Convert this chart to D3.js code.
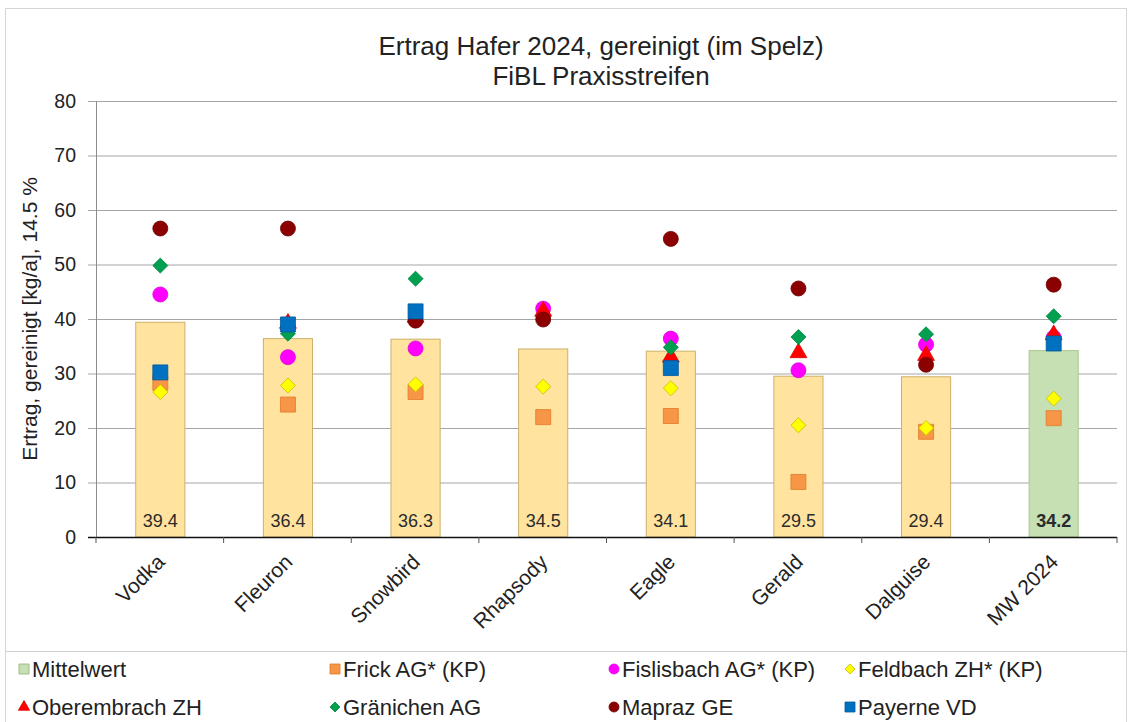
<!DOCTYPE html>
<html>
<head>
<meta charset="utf-8">
<script src="https://cdn.jsdelivr.net/npm/d3@7"></script>
<style>
  html, body { margin: 0; padding: 0; background: #fff; }
  svg { display: block; font-family: "Liberation Sans", Arial, sans-serif; }
</style>
</head>
<body>
<svg id="chart" width="1131" height="722"></svg>
<script>
// Oat yield 2024 (cleaned, in husk), FiBL on-farm strips
const categories = ["Vodka", "Fleuron", "Snowbird", "Rhapsody", "Eagle", "Gerald", "Dalguise", "MW 2024"];
const meanValues = [39.4, 36.4, 36.3, 34.5, 34.1, 29.5, 29.4, 34.2];
const yTicks = [0, 10, 20, 30, 40, 50, 60, 70, 80];

const frick       = [28.3, 24.3, 26.6, 22.0, 22.2, 10.1, 19.3, 21.8];
const fislisbach  = [44.5, 33.0, 34.6, 41.9, 36.4, 30.6, 35.3, 36.6];
const feldbach    = [26.6, 27.8, 28.0, 27.6, 27.3, 20.5, 20.0, 25.4];
const oberembrach = [null, 39.2, 40.3, 41.4, 33.0, 33.8, 33.3, 37.1];
const graenichen  = [49.8, 37.3, 47.4, null, 34.8, 36.7, 37.2, 40.5];
const mapraz      = [56.6, 56.6, 39.7, 39.9, 54.7, 45.6, 31.6, 46.3];
const payerne     = [30.2, 39.0, 41.4, null, 31.0, null, null, 35.5];

const seriesNames = ["Frick AG* (KP)", "Fislisbach AG* (KP)", "Feldbach ZH* (KP)", "Oberembrach ZH",
                     "Gränichen AG", "Mapraz GE", "Payerne VD"];

const series = [
  { name: seriesNames[0], values: frick,       shape: "square",   fill: "#F79646", stroke: "#E07B2A" },
  { name: seriesNames[1], values: fislisbach,  shape: "circle",   fill: "#FF00FF", stroke: "#E000E0" },
  { name: seriesNames[2], values: feldbach,    shape: "diamond",  fill: "#FFFF00", stroke: "#C8C000" },
  { name: seriesNames[3], values: oberembrach, shape: "triangle", fill: "#FF0000", stroke: "#E00000" },
  { name: seriesNames[4], values: graenichen,  shape: "diamond",  fill: "#00A050", stroke: "#008A40" },
  { name: seriesNames[5], values: mapraz,      shape: "circle",   fill: "#8B0000", stroke: "#6E0000" },
  { name: seriesNames[6], values: payerne,     shape: "square",   fill: "#0070C0", stroke: "#005A9E" }
];

const svg = d3.select("#chart");

// chart area frame and legend separator
svg.append("rect").attr("x", 5.5).attr("y", 8.5).attr("width", 1121).attr("height", 720)
  .attr("fill", "none").attr("stroke", "#d6d6d6");
svg.append("line").attr("x1", 5).attr("x2", 1127).attr("y1", 651.5).attr("y2", 651.5)
  .attr("stroke", "#cfcfcf");

const plot = { left: 96, right: 1117, top: 101, bottom: 537 };

const x = d3.scaleBand().domain(categories).range([plot.left, plot.right])
  .paddingInner(0.615).paddingOuter(0.3075);
const y = d3.scaleLinear().domain([0, 80]).range([plot.bottom, plot.top]);

// horizontal gridlines + y axis
const yAxis = d3.axisLeft(y).tickValues(yTicks).tickSize(-(plot.right - plot.left)).tickPadding(20);
const gy = svg.append("g").attr("transform", `translate(${plot.left},0)`).call(yAxis);
gy.select(".domain").remove();
gy.selectAll(".tick line").attr("stroke", "#a6a6a6").attr("x1", -8);
gy.selectAll(".tick text").attr("fill", "#222").style("font-size", "19.5px")
  .style("font-family", "'Liberation Sans', Arial, sans-serif");
svg.append("line").attr("x1", plot.left + 0.5).attr("x2", plot.left + 0.5)
  .attr("y1", plot.top).attr("y2", plot.bottom).attr("stroke", "#8c8c8c");

// bars
const barColors = categories.map((c, i) => i === categories.length - 1
  ? { fill: "#C6E0B4", stroke: "#A9C98F" } : { fill: "#FFE39F", stroke: "#CDB06A" });

svg.append("g").selectAll("rect").data(categories).join("rect")
  .attr("x", d => x(d) + 0.5)
  .attr("y", (d, i) => y(meanValues[i]))
  .attr("width", x.bandwidth())
  .attr("height", (d, i) => y(0) - y(meanValues[i]))
  .attr("fill", (d, i) => barColors[i].fill)
  .attr("stroke", (d, i) => barColors[i].stroke)
  .attr("stroke-width", 1);

// x axis with category tick marks between groups
const step = x.step();
const xAxisG = svg.append("g");
xAxisG.append("line").attr("x1", plot.left - 8).attr("x2", plot.right)
  .attr("y1", plot.bottom + 0.5).attr("y2", plot.bottom + 0.5).attr("stroke", "#111").attr("stroke-width", 1.3);
xAxisG.selectAll("line.tk").data(d3.range(categories.length + 1)).join("line").attr("class", "tk")
  .attr("x1", i => plot.left + i * step).attr("x2", i => plot.left + i * step)
  .attr("y1", plot.bottom).attr("y2", plot.bottom + 6).attr("stroke", "#555");

xAxisG.selectAll("text").data(categories).join("text")
  .attr("transform", d => `translate(${x(d) + x.bandwidth() / 2 + 1},${plot.bottom + 21}) rotate(-45)`)
  .attr("text-anchor", "end").attr("dy", "0.35em")
  .attr("fill", "#222").style("font-size", "21px")
  .text(d => d);

// value labels at the bottom of the bars
svg.append("g").selectAll("text").data(categories).join("text")
  .attr("x", d => x(d) + x.bandwidth() / 2 + 0.5)
  .attr("y", plot.bottom - 10)
  .attr("text-anchor", "middle")
  .attr("fill", "#2b2b2b")
  .style("font-size", "18px")
  .style("font-weight", (d, i) => i === categories.length - 1 ? "bold" : "normal")
  .text((d, i) => meanValues[i].toFixed(1));

// marker shapes
function symbolPath(shape, s) {
  if (shape === "circle") return d3.symbol(d3.symbolCircle, s * s * Math.PI / 4)();
  if (shape === "square") return d3.symbol(d3.symbolSquare, s * s)();
  if (shape === "triangle") return d3.symbol(d3.symbolTriangle, s * s * 0.55)();
  return d3.symbol(d3.symbolSquare, s * s * 0.5)(); // diamond: rotated square
}

const pts = svg.append("g");
series.forEach(se => {
  pts.append("g").selectAll("path")
    .data(categories.map((c, i) => ({ c, v: se.values[i] })).filter(d => d.v != null))
    .join("path")
    .attr("d", symbolPath(se.shape, 15))
    .attr("transform", d => `translate(${x(d.c) + x.bandwidth() / 2 + 0.5},${y(d.v)})${se.shape === "diamond" ? " rotate(45)" : ""}`)
    .attr("fill", se.fill).attr("stroke", se.stroke).attr("stroke-width", 0.8);
});

// titles
const title = svg.append("text").attr("x", 601).attr("text-anchor", "middle")
  .attr("fill", "#222").style("font-size", "26px");
title.append("tspan").attr("x", 601).attr("y", 55).text("Ertrag Hafer 2024, gereinigt (im Spelz)");
title.append("tspan").attr("x", 601).attr("y", 85).text("FiBL Praxisstreifen");

svg.append("text").attr("transform", `translate(37,${(plot.top + plot.bottom) / 2}) rotate(-90)`)
  .attr("text-anchor", "middle").attr("fill", "#222").style("font-size", "21px")
  .text("Ertrag, gereinigt [kg/a], 14.5 %");

// legend
const legendItems = [
  { name: "Mittelwert", shape: "square", fill: "#C6E0B4", stroke: "#8FAF7A" },
  series[0], series[1], series[2], series[3], series[4], series[5], series[6]
];
const legendCols = [24, 335, 614, 850];
const legendRows = [669, 707];
const lg = svg.append("g");
legendItems.forEach((it, i) => {
  const cx = legendCols[i % 4], cy = legendRows[Math.floor(i / 4)];
  lg.append("path").attr("d", symbolPath(it.shape, 10))
    .attr("transform", `translate(${cx},${cy})${it.shape === "diamond" ? " rotate(45)" : ""}`)
    .attr("fill", it.fill).attr("stroke", it.stroke).attr("stroke-width", 0.8);
  lg.append("text").attr("x", cx + 8).attr("y", cy).attr("dy", "0.35em")
    .attr("fill", "#222").style("font-size", "22px").text(it.name);
});
</script>
</body>
</html>
